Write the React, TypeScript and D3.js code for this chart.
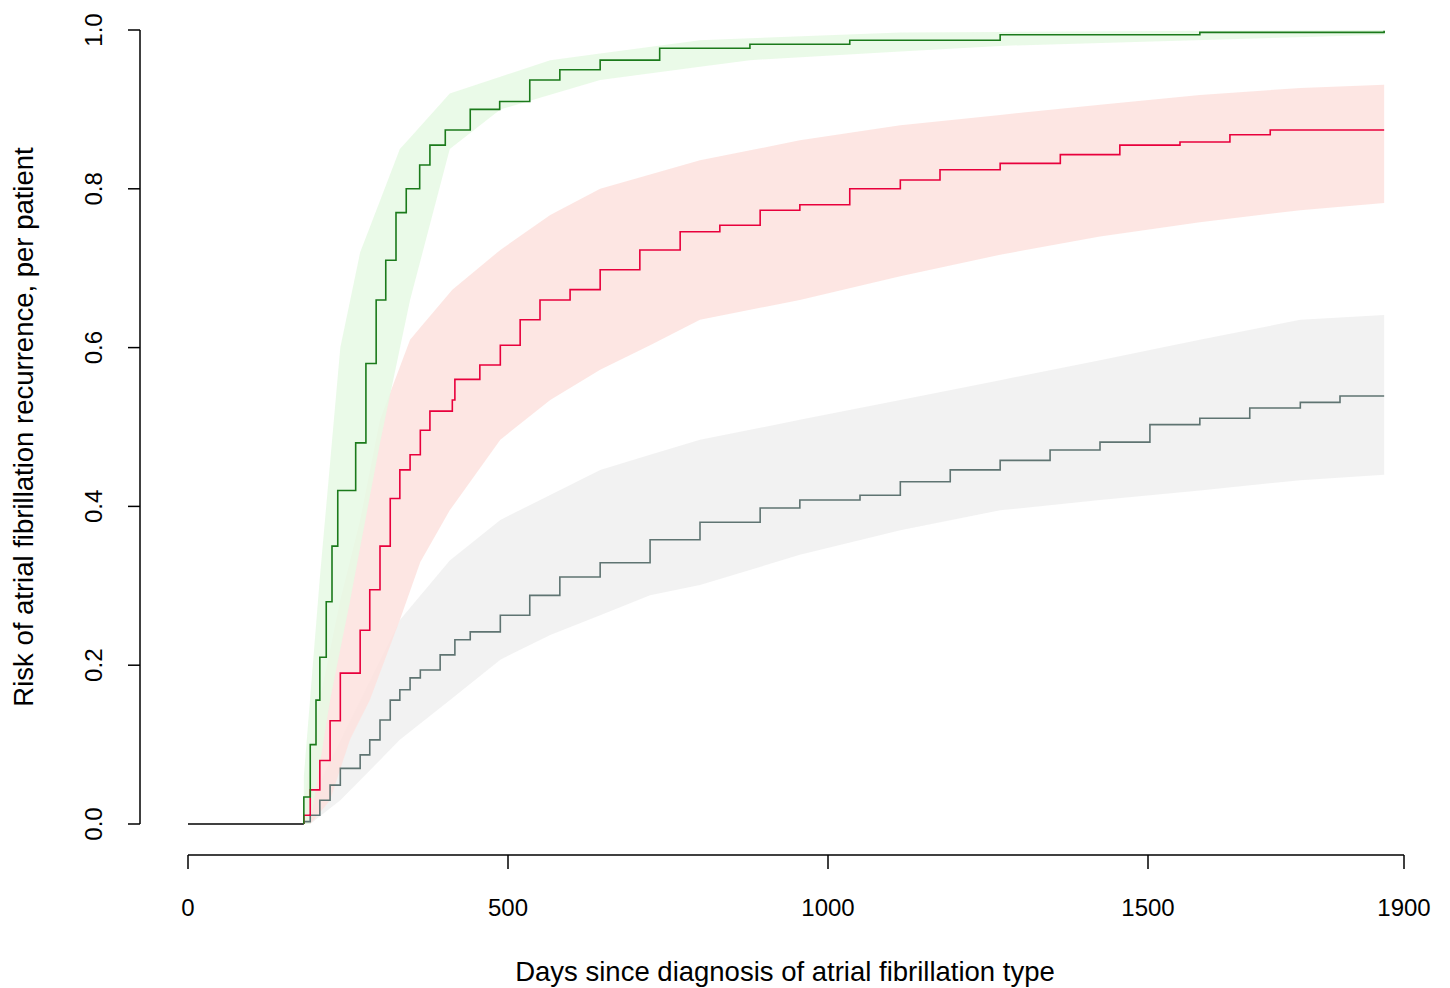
import * as d3 from 'd3';

// Kaplan-Meier style cumulative risk curves: [day, risk]
const greenDays = [181, 191, 200, 206, 216, 225, 234, 253, 262, 278, 294, 309, 325, 341, 362, 378, 402, 441, 487, 534, 581, 644, 737, 878, 1034, 1269, 1581, 1869];
const greenRisk = [0.034, 0.1, 0.156, 0.21, 0.28, 0.35, 0.42, 0.42, 0.48, 0.58, 0.66, 0.71, 0.77, 0.8, 0.83, 0.855, 0.874, 0.9, 0.91, 0.937, 0.95, 0.962, 0.977, 0.982, 0.987, 0.994, 0.997, 0.999];
const greenLoDays = [191, 222, 253, 300, 347, 409, 488, 644, 878, 1269, 1869];
const greenLo = [0, 0.156, 0.28, 0.48, 0.66, 0.85, 0.9, 0.937, 0.962, 0.98, 0.994];
const greenHiDays = [181, 206, 238, 269, 331, 409, 566, 800, 1113, 1869];
const greenHi = [0.06, 0.31, 0.6, 0.72, 0.85, 0.92, 0.962, 0.987, 0.997, 1.0];

const redDays = [181, 191, 206, 222, 238, 253, 269, 284, 300, 316, 331, 347, 363, 378, 413, 417, 456, 488, 519, 550, 597, 644, 706, 769, 831, 894, 956, 1034, 1113, 1175, 1269, 1363, 1456, 1550, 1628, 1691, 1869];
const redRisk = [0.011, 0.043, 0.08, 0.13, 0.19, 0.19, 0.244, 0.295, 0.35, 0.41, 0.446, 0.465, 0.496, 0.52, 0.534, 0.56, 0.578, 0.603, 0.635, 0.66, 0.673, 0.698, 0.723, 0.746, 0.754, 0.773, 0.78, 0.8, 0.811, 0.824, 0.832, 0.843, 0.855, 0.859, 0.868, 0.874, 0.874];
const redLoDays = [191, 222, 253, 284, 331, 363, 409, 488, 566, 644, 722, 800, 956, 1113, 1269, 1425, 1581, 1738, 1869];
const redLo = [0, 0.03, 0.106, 0.156, 0.257, 0.33, 0.395, 0.484, 0.534, 0.572, 0.603, 0.635, 0.66, 0.69, 0.717, 0.74, 0.758, 0.773, 0.782];
const redHiDays = [181, 206, 238, 269, 300, 347, 413, 488, 566, 644, 800, 956, 1113, 1269, 1425, 1581, 1738, 1869];
const redHi = [0.03, 0.156, 0.282, 0.383, 0.509, 0.61, 0.673, 0.723, 0.767, 0.8, 0.836, 0.861, 0.88, 0.893, 0.906, 0.918, 0.927, 0.931];

const greyDays = [181, 191, 206, 222, 238, 253, 269, 284, 300, 316, 331, 347, 363, 394, 417, 441, 488, 534, 581, 644, 722, 800, 894, 956, 1050, 1113, 1191, 1269, 1347, 1425, 1503, 1581, 1659, 1738, 1800, 1869];
const greyRisk = [0.003, 0.011, 0.03, 0.049, 0.07, 0.07, 0.087, 0.106, 0.131, 0.156, 0.169, 0.184, 0.194, 0.213, 0.232, 0.242, 0.263, 0.288, 0.311, 0.329, 0.358, 0.38, 0.398, 0.408, 0.414, 0.431, 0.446, 0.458, 0.471, 0.481, 0.503, 0.511, 0.524, 0.531, 0.539, 0.539];
const greyLoDays = [191, 238, 269, 331, 409, 488, 566, 644, 722, 800, 956, 1113, 1269, 1425, 1581, 1738, 1869];
const greyLo = [0, 0.03, 0.055, 0.106, 0.156, 0.207, 0.238, 0.263, 0.288, 0.301, 0.339, 0.37, 0.395, 0.408, 0.42, 0.433, 0.44];
const greyHiDays = [181, 222, 269, 331, 409, 488, 644, 800, 956, 1113, 1269, 1425, 1581, 1738, 1869];
const greyHi = [0.01, 0.08, 0.156, 0.257, 0.332, 0.383, 0.446, 0.484, 0.509, 0.534, 0.559, 0.584, 0.61, 0.635, 0.641];

const xTicks = [0, 500, 1000, 1500, 1900];
const yTicks = [0, 0.2, 0.4, 0.6, 0.8, 1.0];

const x = d3.scaleLinear().domain([0, 1900]).range([188, 1404]);
const y = d3.scaleLinear().domain([0, 1]).range([824, 30]);

type P = [number, number];
const zip = (a: number[], b: number[]): P[] => a.map((d, i) => [d, b[i]]);

function linAt(pts: P[], d: number) {
  if (d <= pts[0][0]) return pts[0][1];
  for (let i = 1; i < pts.length; i++) {
    if (d <= pts[i][0]) {
      const t = (d - pts[i - 1][0]) / (pts[i][0] - pts[i - 1][0]);
      return pts[i - 1][1] + t * (pts[i][1] - pts[i - 1][1]);
    }
  }
  return pts[pts.length - 1][1];
}

function band(lo: P[], hi: P[]) {
  const days = Array.from(new Set([...lo.map((p) => p[0]), ...hi.map((p) => p[0])])).sort((a, b) => a - b);
  const area = d3
    .area<number>()
    .x((d) => x(d))
    .y0((d) => y(Math.min(linAt(lo, d), linAt(hi, d))))
    .y1((d) => y(linAt(hi, d)));
  return area(days) ?? '';
}

const line = d3
  .line<P>()
  .x((d) => x(d[0]))
  .y((d) => y(d[1]))
  .curve(d3.curveStepAfter);

const series = [
  { pts: zip(greyDays, greyRisk), lo: zip(greyLoDays, greyLo), hi: zip(greyHiDays, greyHi), line: '#5f7472', fill: '#f0f0f0' },
  { pts: zip(redDays, redRisk), lo: zip(redLoDays, redLo), hi: zip(redHiDays, redHi), line: '#e8003c', fill: '#fde2de' },
  { pts: zip(greenDays, greenRisk), lo: zip(greenLoDays, greenLo), hi: zip(greenHiDays, greenHi), line: '#1b7a1b', fill: '#e6f9e4' },
];

export default function App() {
  const font = '"Liberation Sans", Arial, sans-serif';
  return (
    <svg width={1450} height={988} style={{ position: 'absolute', left: 0, top: 0, background: '#fff' }} fontFamily={font}>
      {series.map((s, i) => (
        <path key={'b' + i} d={band(s.lo, s.hi)} fill={s.fill} opacity={0.85} />
      ))}
      <line x1={x(0)} x2={x(181)} y1={y(0)} y2={y(0)} stroke="#000" strokeWidth={1.5} />
      {series.map((s, i) => (
        <path key={'l' + i} d={line([[181, 0] as P, ...s.pts]) ?? ''} fill="none" stroke={s.line} strokeWidth={1.6} />
      ))}
      {/* y axis */}
      <line x1={140} x2={140} y1={y(0)} y2={y(1)} stroke="#000" strokeWidth={1.5} />
      {yTicks.map((t) => (
        <g key={t}>
          <line x1={128} x2={140} y1={y(t)} y2={y(t)} stroke="#000" strokeWidth={1.5} />
          <text transform={`translate(102,${y(t)}) rotate(-90)`} textAnchor="middle" fontSize={24}>
            {t.toFixed(1)}
          </text>
        </g>
      ))}
      {/* x axis */}
      <line x1={x(0)} x2={x(1900)} y1={855} y2={855} stroke="#000" strokeWidth={1.5} />
      {xTicks.map((t) => (
        <g key={t}>
          <line x1={x(t)} x2={x(t)} y1={855} y2={869} stroke="#000" strokeWidth={1.5} />
          <text x={x(t)} y={916} textAnchor="middle" fontSize={24}>
            {t}
          </text>
        </g>
      ))}
      <text x={785} y={981} textAnchor="middle" fontSize={27.5}>
        Days since diagnosis of atrial fibrillation type
      </text>
      <text transform="translate(33,427) rotate(-90)" textAnchor="middle" fontSize={27.5}>
        Risk of atrial fibrillation recurrence, per patient
      </text>
    </svg>
  );
}
